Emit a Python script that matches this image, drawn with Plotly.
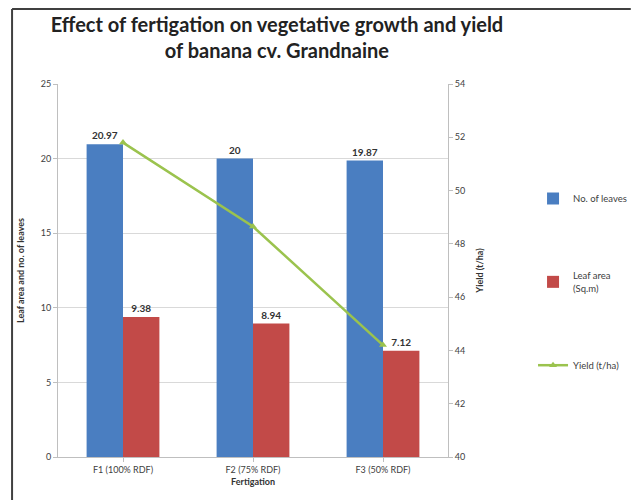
import plotly.graph_objects as go

categories = ["F1 (100% RDF)", "F2 (75% RDF)", "F3 (50% RDF)"]
no_of_leaves = [20.97, 20, 19.87]
leaf_area = [9.38, 8.94, 7.12]
yield_tha = [51.8, 48.65, 44.2]

W, H = 644, 500
L, R, T, B = 58, 457, 84, 457  # plot area in px

def px(x):
    return (x - L) / (R - L)

def py(y):
    return (B - y) / (B - T)

fig = go.Figure()
fig.add_trace(go.Bar(
    x=categories, y=no_of_leaves, name="No. of leaves",
    marker=dict(color="#4A7EC1", line=dict(width=0)),
    text=[str(v) for v in no_of_leaves], textposition="outside",
    textfont=dict(size=10, color="#333333", family="Lato", weight="bold"),
    cliponaxis=False, legendgroup="a"))
fig.add_trace(go.Bar(
    x=categories, y=leaf_area, name="Leaf area<br>(Sq.m)",
    marker=dict(color="#C24A48", line=dict(width=0)),
    text=[str(v) for v in leaf_area], textposition="outside",
    textfont=dict(size=10, color="#333333", family="Lato", weight="bold"),
    cliponaxis=False, legendgroup="b"))
fig.add_trace(go.Scatter(
    x=categories, y=yield_tha, name="Yield (t/ha)", yaxis="y2",
    mode="lines+markers",
    line=dict(color="#9BC34E", width=2.5),
    marker=dict(symbol="triangle-up", size=7, color="#9BC34E"),
    legendgroup="c"))

fig.update_layout(
    width=W, height=H,
    margin=dict(l=L, r=W - R, t=T, b=H - B),
    paper_bgcolor="white", plot_bgcolor="white",
    font=dict(family="Lato", size=9, color="#404040"),
    barmode="group", bargap=0.44, bargroupgap=0,
    title=dict(text="<b>Effect of fertigation on vegetative growth and yield<br>of banana cv. Grandnaine</b>",
               x=px(282), xref="paper", xanchor="center",
               y=1 - 32 / H, yref="container", yanchor="middle",
               font=dict(family="Lato", size=20, color="#222222")),
    xaxis=dict(showline=True, linecolor="#BFBFBF", ticks="outside", ticklen=4,
               tickcolor="#BFBFBF",
               title=dict(text="<b>Fertigation</b>", font=dict(size=9, color="#333333"), standoff=4),
               tickfont=dict(size=9, color="#404040")),
    yaxis=dict(range=[0, 25], dtick=5, showgrid=True, gridcolor="#D9D9D9",
               showline=True, linecolor="#BFBFBF", ticks="outside", ticklen=4,
               tickcolor="#BFBFBF", zeroline=False,
               title=dict(text="<b>Leaf area and no. of leaves</b>", font=dict(size=9, color="#333333"), standoff=14),
               tickfont=dict(size=9, color="#404040")),
    yaxis2=dict(range=[40, 54], dtick=2, overlaying="y", side="right",
                showgrid=False, showline=True, linecolor="#BFBFBF",
                ticks="outside", ticklen=4, tickcolor="#BFBFBF", zeroline=False,
                title=dict(text="<b>Yield (t/ha)</b>", font=dict(size=9, color="#333333"), standoff=12),
                tickfont=dict(size=9, color="#404040")),
    legend=dict(x=px(544), xanchor="left", y=py(184), yanchor="top",
                traceorder="grouped", tracegroupgap=60,
                font=dict(size=9.5, color="#404040"), bgcolor="rgba(0,0,0,0)",
                itemwidth=30),
    shapes=[
        dict(type="line", xref="paper", yref="paper", x0=px(11), x1=px(11), y0=py(9), y1=py(500),
             line=dict(color="#404040", width=2)),
        dict(type="line", xref="paper", yref="paper", x0=px(11), x1=px(644), y0=py(9), y1=py(9),
             line=dict(color="#404040", width=2)),
    ],
)

fig.write_html("out.html")
